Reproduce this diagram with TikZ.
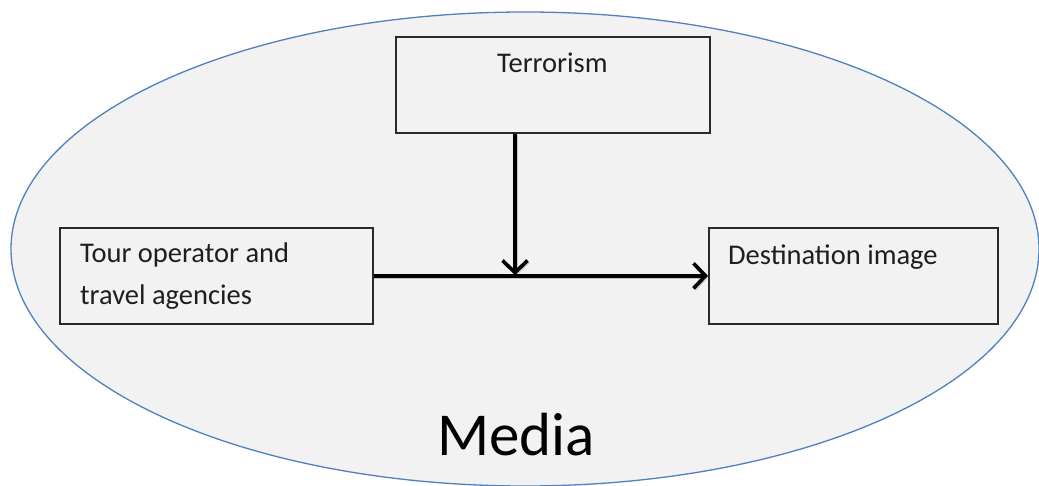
\documentclass[tikz,border=0pt]{standalone}
\usepackage{fontspec}
\setmainfont{Carlito}
\usetikzlibrary{arrows.meta}
\definecolor{mediafill}{HTML}{F2F2F2}
\definecolor{mediaedge}{HTML}{4F81BD}
\definecolor{boxedge}{HTML}{2A2A2A}
\definecolor{inktext}{HTML}{1E1E1E}
\begin{document}
\begin{tikzpicture}[x=1pt,y=-1pt,
  box/.style={draw=boxedge, line width=1.6pt, inner sep=0pt, anchor=north west,
              minimum width=#1, minimum height=96pt},
  lbl/.style={font=\fontsize{28.5}{42}\selectfont, text=inktext, inner sep=0pt, anchor=base west},
  arr/.style={line width=3.6pt, -{Straight Barb[length=12pt,width=25pt,line width=3.6pt]}},
  arrshade/.style={arr, draw=black, opacity=0.18, line width=5pt, transform canvas={shift={(0.8pt,-1.2pt)}}}]
\useasboundingbox (0,0) rectangle (1039,486);
\clip (0,0) rectangle (1039,486);

% surrounding media ellipse
\filldraw[fill=mediafill, draw=mediaedge, line width=1.3pt] (525,249) ellipse [x radius=514, y radius=237];

% boxes
\node[box=314pt] (terror) at (395,36) {};
\node[box=313pt] (tour) at (59,227) {};
\node[box=289pt] (dest) at (708,227) {};

% box texts
\node[lbl] (terrortxt) at (497,73) {Terrorism};
\node[lbl] (tourtxt1) at (80,263) {Tour operator and};
\node[lbl] (tourtxt2) at (80,305) {travel agencies};
\node[lbl] (desttxt) at (728,265) {Destination image};

% connectors, with a soft shadow underneath
\coordinate (j) at (515,275);
\draw[arrshade] (tour.east) -- (dest.west);
\draw[arrshade] (terror.south -| j) -- (j);
\draw[arr] (tour.east) -- (dest.west);
\draw[arr] (terror.south -| j) -- (j);

% ellipse caption
\node[font=\fontsize{61}{62}\selectfont, text=black, inner sep=0pt, anchor=base west] (media) at (437,455) {Media};
\end{tikzpicture}
\end{document}
